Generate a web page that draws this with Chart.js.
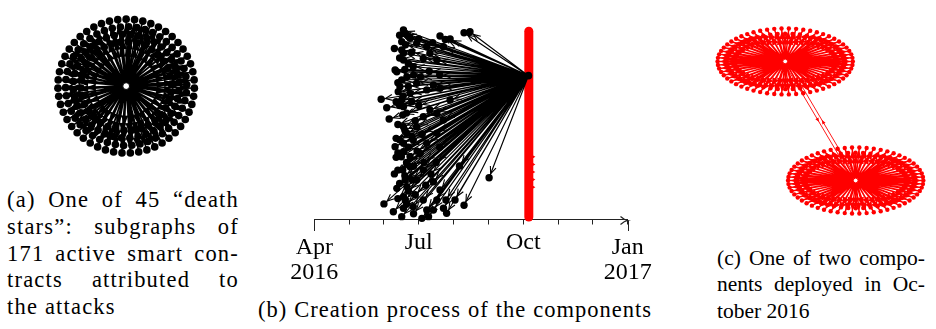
<!DOCTYPE html>
<html>
<head>
<meta charset="utf-8">
<script src="https://cdn.jsdelivr.net/npm/chart.js@4.4.1/dist/chart.umd.min.js"></script>
<style>
  html, body { margin: 0; padding: 0; background: #fff; }
  body { width: 936px; height: 329px; position: relative; overflow: hidden;
         font-family: "Liberation Serif", "Tinos", "DejaVu Serif", serif; color: #000; }
  canvas { position: absolute; }
  .cap { position: absolute; font-size: 22.5px; line-height: 26.7px; white-space: nowrap;
         text-align: justify; text-align-last: justify; }
  .cap.last { text-align-last: left; }
  .capA { letter-spacing: 1.2px; }
  .capB { letter-spacing: 1px; }
  .capC { font-size: 21.5px; }
</style>
</head>
<body>
<canvas id="starChart" width="260" height="175" style="left:0;top:0"></canvas>
<canvas id="timeChart" width="400" height="290" style="left:270px;top:0"></canvas>
<canvas id="compChart" width="246" height="230" style="left:690px;top:0"></canvas>

<div class="cap capA" style="left:7px;top:187px;width:232px">(a) One of 45 “death</div>
<div class="cap capA" style="left:7px;top:214px;width:232px">stars”: subgraphs of</div>
<div class="cap capA" style="left:7px;top:240.5px;width:232px">171 active smart con-</div>
<div class="cap capA" style="left:7px;top:267px;width:232px">tracts attributed to</div>
<div class="cap capA last" style="left:7px;top:294px;width:232px">the attacks</div>

<div class="cap capB" style="left:258px;top:296.5px;width:394px">(b) Creation process of the components</div>

<div class="cap capC" style="left:717px;top:244.5px;width:208px">(c) One of two compo-</div>
<div class="cap capC" style="left:717px;top:271.2px;width:208px">nents deployed in Oc-</div>
<div class="cap capC last" style="left:717px;top:297.8px;width:208px">tober 2016</div>

<script>
const SERIF = '"Liberation Serif", "Tinos", "DejaVu Serif", serif';

// ===== (a) one "death star": 171 contracts on concentric rings =====
const starRingRadius = [71, 63, 55, 47];
const starRingCount  = [51, 46, 40, 34];
const starRingPhase  = [5.3, 1.5, 4.0, 2.5];   // degrees

// ===== (b) creation timeline, months since Apr 2016 =====
const monthTicks  = [0, 1, 2, 3, 4, 5, 6, 7, 8, 9];
const monthLabels = { 0: ['Apr', '2016'], 3: 'Jul', 6: 'Oct', 9: ['Jan', '2017'] };
const creatorMonth = 6.15, creatorLevel = 75.7;
const deployMonth  = 6.16;
const deployLevels = [1.3, 99.1];
const deployMarkLevels = [33, 29, 25, 21, 17];
const createdMonth = [
  2.56, 2.61, 3.61, 3.76, 4.30, 4.47, 2.51, 2.56, 2.32, 2.37,
  2.51, 2.41, 1.92, 2.08, 2.15, 2.56, 2.54, 2.56, 2.35, 2.32,
  2.35, 2.56, 2.54, 2.37, 2.00, 2.27, 2.51, 2.56, 2.84, 3.09,
  3.28, 3.42, 3.71, 3.80, 3.78, 4.30, 5.02, 4.17, 3.61, 3.42,
  3.13, 2.75, 2.84, 2.94, 3.13, 3.32, 3.52, 2.75, 2.94, 3.23,
  3.42, 3.61, 2.84, 3.13, 3.32, 3.52, 2.94, 3.23, 2.75, 3.71,
  2.66, 2.94, 3.13, 2.56, 2.75, 3.04, 3.23, 3.52, 3.71, 3.90,
  2.56, 2.66, 2.51, 2.46, 2.51, 2.56, 2.66, 2.61, 2.61, 3.23,
  3.52, 4.04,
  2.45, 2.70, 2.62, 2.80, 2.45, 2.70, 2.60, 2.85, 2.40, 2.70,
  2.55, 2.80, 2.45, 2.65, 2.90, 2.40, 2.60, 2.80, 2.45, 2.70,
  2.95, 2.50, 2.65, 2.85, 2.40, 2.60, 2.80, 2.45, 2.70, 2.90,
  2.40, 2.65, 2.85, 3.00, 3.05, 3.10, 3.15, 3.20, 3.35, 3.50,
  3.60, 3.00, 3.40, 3.90, 3.30, 3.60, 2.35, 2.30, 2.40, 2.30
];
const createdLevel = [
  99.7, 98.0, 96.6, 94.8, 98.3, 98.8, 89.2, 83.9, 78.7, 77.8,
  73.4, 67.3, 63.3, 58.8, 52.9, 59.4, 55.0, 48.8, 42.7, 38.3,
  32.7, 35.7, 26.1, 16.4,  8.2,  4.1,  1.5,  5.9,  6.7,  0.6,
   1.5,  5.0,  5.9,  3.3, 10.3,  7.5, 22.0, 28.2, 15.5, 19.9,
  10.3, 27.8, 41.8, 48.8, 54.1, 57.6, 55.9, 66.4, 71.7, 68.2,
  70.8, 69.1, 80.4, 84.8, 87.5, 83.9, 92.7, 90.9, 95.4, 90.9,
  17.3, 20.8, 26.1, 12.0, 33.1, 34.8, 40.1, 45.4, 52.4, 62.9,
  40.1, 45.4, 62.9, 69.9, 93.6, 87.5, 75.2, 20.8, 10.3,  5.0,
  10.3, 10.3,
  97.0, 96.5, 92.0, 88.0, 85.0, 82.0, 79.0, 76.0, 72.0, 70.0,
  65.0, 62.0, 60.0, 56.0, 52.0, 50.0, 47.0, 44.0, 42.0, 38.0,
  36.0, 33.0, 30.0, 28.0, 26.0, 23.0, 21.0, 19.0, 15.0, 13.0,
  11.0,  8.0,  3.0, 60.0, 75.0, 45.0, 30.0, 18.0, 24.0, 30.0,
  38.0, 95.0, 93.0, 95.0, 78.0, 76.0, 62.0, 90.0, 35.0, 24.0
];

// ===== (c) one of two components deployed in October 2016 =====
const compCenterX    = [94, 167.5];
const compCenterY    = [59, 183.5];
const compRingRx     = [70.5, 62];
const compRingRy     = [34.5, 29];
const compRingCount  = [58, 50];
const compRingPhase  = [0, 3.5];

const GAP = { x: null, y: null };

function ringNodes(cx, cy, rx, ry, counts, phases) {
  const out = [];
  counts.forEach((n, r) => {
    for (let k = 0; k < n; k++) {
      const a = (phases[r] + k * 360 / n) * Math.PI / 180;
      out.push({ x: cx + rx[r] * Math.cos(a), y: cy + ry[r] * Math.sin(a) });
    }
  });
  return out;
}

function edgeData(from, nodes) {
  const out = [];
  nodes.forEach(n => { out.push(from, n, GAP); });
  return out;
}

// draws an arrow head on every [from, to, gap] triple of a dataset that has an `arrow` option
const arrowPlugin = {
  id: 'arrowHeads',
  afterDatasetsDraw(chart) {
    const ctx = chart.ctx;
    chart.data.datasets.forEach((ds, i) => {
      const a = ds.arrow;
      if (!a) return;
      const pts = chart.getDatasetMeta(i).data;
      ctx.save();
      ctx.strokeStyle = ds.borderColor;
      ctx.fillStyle = ds.borderColor;
      ctx.lineWidth = a.lineWidth || 1;
      for (let k = 0; k + 1 < pts.length; k += 3) {
        const p0 = pts[k], p1 = pts[k + 1];
        const dx = p1.x - p0.x, dy = p1.y - p0.y, L = Math.hypot(dx, dy);
        if (!L) continue;
        const ux = dx / L, uy = dy / L;
        const t = a.mid ? L / 2 : L - a.gap;
        const tx = p0.x + ux * t, ty = p0.y + uy * t;
        const bx = tx - ux * a.len, by = ty - uy * a.len;
        ctx.beginPath();
        ctx.moveTo(bx - uy * a.half, by + ux * a.half);
        ctx.lineTo(tx, ty);
        ctx.lineTo(bx + uy * a.half, by - ux * a.half);
        if (a.fill) { ctx.closePath(); ctx.fill(); } else ctx.stroke();
      }
      ctx.restore();
    });
  }
};

// longer end ticks and arrow tip on the time axis
const timeAxisPlugin = {
  id: 'timeAxis',
  afterDraw(chart) {
    const x = chart.scales.x, ctx = chart.ctx;
    const y = Math.round(chart.chartArea.bottom) + 0.5;
    const x0 = Math.round(x.getPixelForValue(monthTicks[0])) + 0.5;
    const x1 = Math.round(x.getPixelForValue(monthTicks[monthTicks.length - 1])) + 0.5;
    ctx.save();
    ctx.strokeStyle = '#222';
    ctx.lineWidth = 1;
    ctx.beginPath();
    ctx.moveTo(x0, y); ctx.lineTo(x0, y + 10.5);
    ctx.moveTo(x1, y); ctx.lineTo(x1, y + 10.5);
    ctx.stroke();
    ctx.lineWidth = 1.2;
    ctx.beginPath();
    ctx.moveTo(x1 - 8, y - 4);
    ctx.quadraticCurveTo(x1 - 4, y - 0.5, x1 - 1, y);
    ctx.quadraticCurveTo(x1 - 4, y + 0.5, x1 - 8, y + 4);
    ctx.stroke();
    ctx.restore();
  }
};

const quiet = { legend: { display: false }, tooltip: { enabled: false } };

// ---------- (a) ----------
const starCenter = { x: 0, y: 0 };
const starNodes = ringNodes(0, 0, starRingRadius, starRingRadius, starRingCount, starRingPhase);

new Chart(document.getElementById('starChart'), {
  type: 'scatter',
  data: { datasets: [
    { data: [starCenter], pointRadius: 3.4, backgroundColor: '#fff', borderColor: '#000',
      borderWidth: 1, order: 1, clip: false },
    { data: starNodes, pointRadius: 3.8, backgroundColor: '#000', borderWidth: 0, order: 2, clip: false },
    { data: edgeData(starCenter, starNodes), showLine: true, spanGaps: false, pointRadius: 0,
      borderColor: '#000', borderWidth: 1.5, order: 3, clip: false,
      arrow: { len: 11, half: 3.4, gap: 3.8, fill: true } }
  ] },
  options: {
    responsive: false, animation: false, events: [],
    layout: { padding: 0 },
    plugins: quiet,
    scales: {
      x: { display: false, min: -126, max: 134 },
      y: { display: false, min: -89, max: 86 }
    }
  },
  plugins: [arrowPlugin]
});

// ---------- (b) ----------
const creator = { x: creatorMonth, y: creatorLevel };
const created = createdMonth.map((m, i) => ({ x: m, y: createdLevel[i] }));

new Chart(document.getElementById('timeChart'), {
  type: 'scatter',
  data: { datasets: [
    { data: [creator], pointRadius: 3.8, backgroundColor: '#000', borderWidth: 0, order: 1, clip: false },
    { data: created, pointRadius: 3.7, backgroundColor: '#000', borderWidth: 0, order: 2, clip: false },
    { data: edgeData(creator, created), showLine: true, spanGaps: false, pointRadius: 0,
      borderColor: '#000', borderWidth: 1.15, order: 3, clip: false,
      arrow: { len: 7, half: 3, gap: 4.3, fill: false, lineWidth: 1.1 } },
    { data: deployMarkLevels.map(v => ({ x: deployMonth + 0.12, y: v })), pointStyle: 'triangle',
      rotation: 90, pointRadius: 2.4, backgroundColor: '#ff0000', borderWidth: 0, order: 4, clip: false },
    { data: deployLevels.map(v => ({ x: deployMonth, y: v })), showLine: true, pointRadius: 0,
      borderColor: '#ff0000', borderWidth: 9, borderCapStyle: 'round', order: 5, clip: false }
  ] },
  options: {
    responsive: false, animation: false, events: [],
    layout: { padding: { left: 44.3, right: 42.3, top: 29.5, bottom: 0 } },
    plugins: quiet,
    scales: {
      x: {
        type: 'linear', min: 0, max: 9,
        afterBuildTicks: s => { s.ticks = monthTicks.map(v => ({ value: v })); },
        afterFit: s => { s.height = 70.5; },
        grid: { drawOnChartArea: false, tickLength: 5, color: '#222', lineWidth: 1 },
        border: { display: true, color: '#222', width: 1 },
        ticks: {
          autoSkip: false, maxRotation: 0, padding: 11, color: '#000',
          font: ctx => ({ family: SERIF, size: 24,
                          lineHeight: (ctx.tick && ctx.tick.value % 9 !== 0) ? '15px' : '25px' }),
          callback: v => monthLabels[v] || ''
        }
      },
      y: { display: false, min: 0, max: 100 }
    }
  },
  plugins: [arrowPlugin, timeAxisPlugin]
});

// ---------- (c) ----------
const compDatasets = [];
compCenterX.forEach((cx, c) => {
  const center = { x: cx, y: compCenterY[c] };
  const nodes = ringNodes(cx, compCenterY[c], compRingRx, compRingRy, compRingCount, compRingPhase);
  compDatasets.push(
    { data: [center], pointRadius: 2.4, backgroundColor: '#fff', borderColor: '#ff0000',
      borderWidth: 1, order: 1, clip: false },
    { data: nodes, pointRadius: 2.2, backgroundColor: '#ff0000', borderWidth: 0, order: 2, clip: false },
    { data: edgeData(center, nodes), showLine: true, spanGaps: false, pointRadius: 0,
      borderColor: '#ff0000', borderWidth: 1.5, order: 3, clip: false,
      arrow: { len: 8, half: 3.6, gap: 2.8, fill: true } }
  );
});
// the two links between the component centres
{
  const ax = compCenterX[0], ay = compCenterY[0], bx = compCenterX[1], by = compCenterY[1];
  const L = Math.hypot(bx - ax, by - ay), px = -(by - ay) / L * 1.8, py = (bx - ax) / L * 1.8;
  compDatasets.push(
    { data: [{ x: ax + px, y: ay + py }, { x: bx + px, y: by + py }, GAP], showLine: true, spanGaps: false,
      pointRadius: 0, borderColor: '#ff0000', borderWidth: 0.9, order: 4, clip: false,
      arrow: { len: 4, half: 1.8, mid: true, fill: true } },
    { data: [{ x: bx - px, y: by - py }, { x: ax - px, y: ay - py }, GAP], showLine: true, spanGaps: false,
      pointRadius: 0, borderColor: '#ff0000', borderWidth: 0.9, order: 4, clip: false,
      arrow: { len: 4, half: 1.8, mid: true, fill: true } }
  );
}

new Chart(document.getElementById('compChart'), {
  type: 'scatter',
  data: { datasets: compDatasets },
  options: {
    responsive: false, animation: false, events: [],
    layout: { padding: 0 },
    plugins: quiet,
    scales: {
      x: { display: false, min: 0, max: 246 },
      y: { display: false, min: 0, max: 230, reverse: true }
    }
  },
  plugins: [arrowPlugin]
});
</script>
</body>
</html>
